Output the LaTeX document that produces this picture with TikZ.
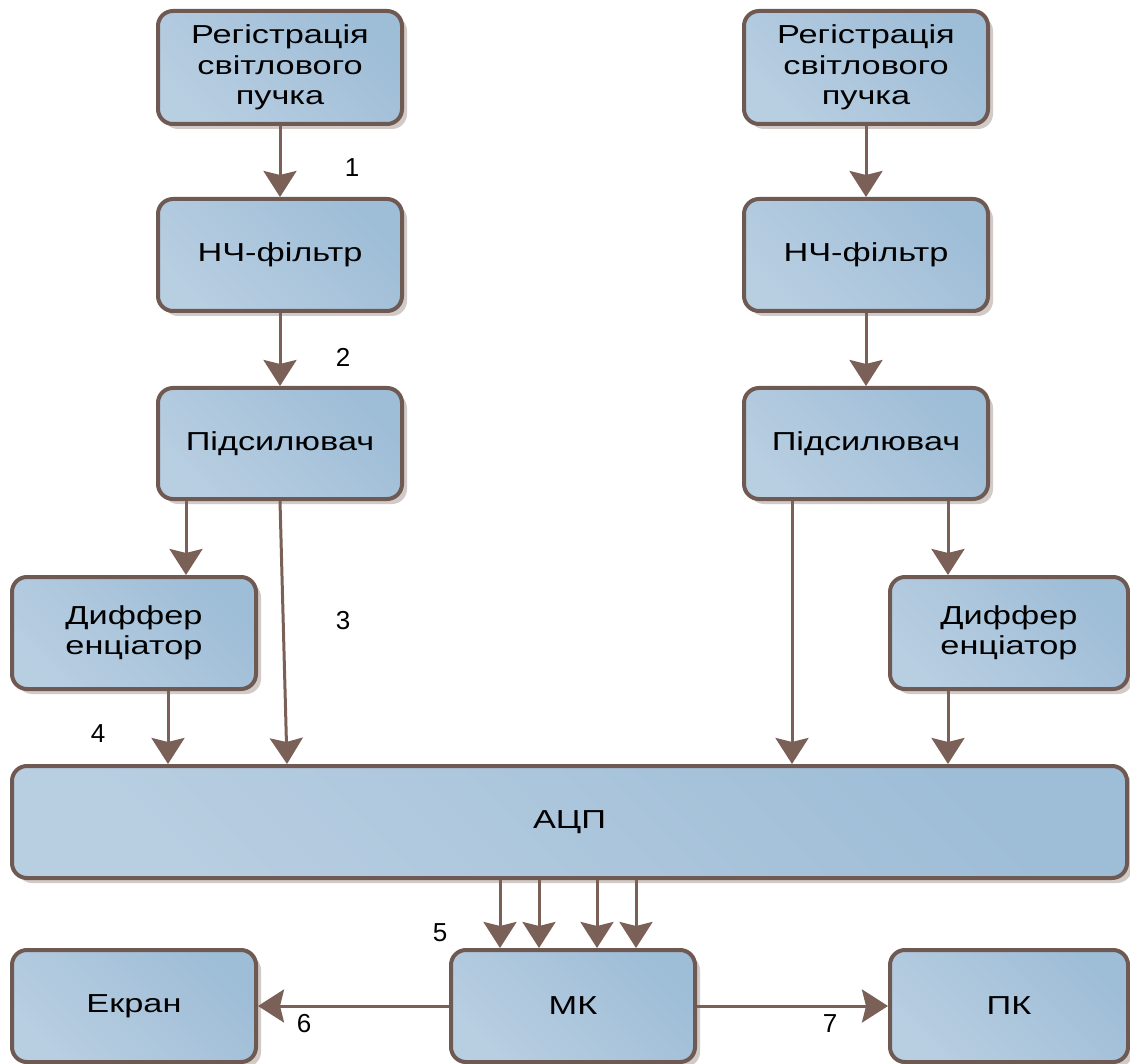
\documentclass[tikz,border=0pt]{standalone}
\usepackage{fontspec}
\setmainfont{Liberation Sans}
\newfontfamily\widefont[FakeStretch=1.32]{Liberation Sans}
\usetikzlibrary{arrows.meta,shadows}
\definecolor{edgec}{RGB}{110,90,82}
\definecolor{arrc}{RGB}{122,96,86}
\definecolor{boxlight}{RGB}{184,206,225}
\definecolor{boxdark}{RGB}{158,189,215}
\definecolor{shadc}{RGB}{210,202,198}
\tikzset{
  blk/.style={draw=edgec, line width=4pt, rounded corners=15pt,
    left color=boxlight, right color=boxdark, shading angle=135,
    drop shadow={shadow xshift=5pt, shadow yshift=-5pt, fill=shadc, opacity=1},
    align=center, font=\widefont\fontsize{26}{30.5}\selectfont, text=black,
    minimum width=244pt, minimum height=112pt, inner sep=0pt},
  arr/.style={draw=arrc, line width=3pt,
    -{Stealth[length=26pt,width=33pt,inset=4pt,fill=arrc]}},
  num/.style={font=\fontsize{26}{30}\selectfont, text=black, inner sep=0pt}
}
\begin{document}
\begin{tikzpicture}[x=1pt,y=1pt]
\useasboundingbox (0,0) rectangle (1130,-1064);
\node[blk, minimum height=113pt] (regL) at (280,-67.5) {Регістрація\\світлового\\пучка};
\node[blk, minimum height=113pt] (regR) at (866,-67.5) {Регістрація\\світлового\\пучка};
\node[blk] (nchL) at (280,-255) {НЧ-фільтр};
\node[blk] (nchR) at (866,-255) {НЧ-фільтр};
\node[blk, minimum height=111pt] (pidL) at (280,-443.5) {Підсилювач};
\node[blk, minimum height=111pt] (pidR) at (866,-443.5) {Підсилювач};
\node[blk] (difL) at (134,-633) {Диффер\\енціатор};
\node[blk, minimum width=238pt] (difR) at (1009,-633) {Диффер\\енціатор};
\node[blk, minimum width=1115pt] (adc) at (569.5,-822) {АЦП};
\node[blk] (ekr) at (134,-1006) {Екран};
\node[blk] (mk) at (573,-1006) {МК};
\node[blk, minimum width=238pt] (pk) at (1009,-1006) {ПК};

\draw[arr] (regL.south) -- (nchL.north);
\draw[arr] (nchL.south) -- (pidL.north);
\draw[arr] (regR.south) -- (nchR.north);
\draw[arr] (nchR.south) -- (pidR.north);
\draw[arr] ([xshift=-94pt]pidL.south) -- ([xshift=52pt]difL.north);
\draw[arr] (pidL.south) -- ([xshift=-282.5pt]adc.north);
\draw[arr] ([xshift=34pt]difL.south) -- ([xshift=-401.5pt]adc.north);
\draw[arr] ([xshift=-74pt]pidR.south) -- ([xshift=222.5pt]adc.north);
\draw[arr] ([xshift=82pt]pidR.south) -- ([xshift=-61pt]difR.north);
\draw[arr] ([xshift=-61pt]difR.south) -- ([xshift=378.5pt]adc.north);
\draw[arr] ([xshift=-69.5pt]adc.south) -- ([xshift=-73pt]mk.north);
\draw[arr] ([xshift=-30.5pt]adc.south) -- ([xshift=-34pt]mk.north);
\draw[arr] ([xshift=27.5pt]adc.south) -- ([xshift=24pt]mk.north);
\draw[arr] ([xshift=66.5pt]adc.south) -- ([xshift=63pt]mk.north);
\draw[arr] (mk.west) -- (ekr.east);
\draw[arr] (mk.east) -- (pk.west);

\node[num] (n1) at (352,-168) {1};
\node[num] (n2) at (343,-357) {2};
\node[num] (n3) at (343,-621) {3};
\node[num] (n4) at (98,-734) {4};
\node[num] (n5) at (440,-933) {5};
\node[num] (n6) at (304,-1024) {6};
\node[num] (n7) at (830,-1024) {7};
\end{tikzpicture}
\end{document}
